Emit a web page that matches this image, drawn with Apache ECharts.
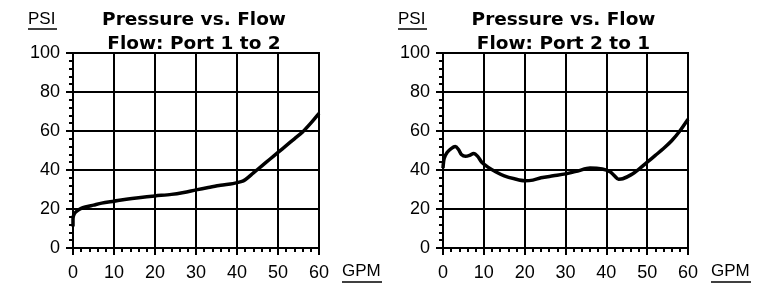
<!DOCTYPE html>
<html>
<head>
<meta charset="utf-8">
<script src="https://cdn.jsdelivr.net/npm/echarts@6/dist/echarts.min.js"></script>
<style>
  html, body { margin: 0; padding: 0; background: #fff; }
  #chart { width: 761px; height: 294px; }
</style>
</head>
<body>
<div id="chart"></div>
<script>
// pressure (PSI) vs flow (GPM)
var flowPort1to2 = [
  [0, 11], [0, 15], [0.3, 17.5], [1, 19], [2, 20.3], [3, 21], [5, 22], [7, 23],
  [10, 24], [13, 25], [16, 25.8], [20, 26.7], [24, 27.5], [27, 28.5], [30, 29.8],
  [33, 31], [36, 32.2], [39, 33], [41, 34], [42, 35], [44, 38.5], [46, 42],
  [48, 45.5], [50, 49], [52, 52.5], [54, 56], [56, 59.5], [58, 64], [60, 69]
];
var flowPort2to1 = [
  [0, 41], [0.3, 46], [1, 49], [2, 51], [3, 52], [3.8, 50.5], [4.5, 48], [5.5, 47],
  [6.5, 47.5], [7.5, 48.5], [8.5, 47], [9.5, 44], [11, 41.5], [13, 39], [15, 37],
  [17.5, 35.5], [20, 34.5], [22, 34.8], [24, 36], [27, 37], [30, 38], [33, 39.5],
  [36, 41], [39, 40.5], [41, 39], [42, 37], [43, 35.3], [44, 35.5], [46, 37.5],
  [48, 40.5], [50, 44], [52, 47.5], [54, 51], [56, 55], [58, 60], [60, 66]
];
var titleLine1 = ['Pressure vs. Flow', 'Pressure vs. Flow'];
var titleLine2 = ['Flow: Port 1 to 2', 'Flow: Port 2 to 1'];

var chart = echarts.init(document.getElementById('chart'));
var txt = { color: '#000', fontFamily: 'Liberation Sans', fontSize: 18 };
var grids = [
  { left: 73, top: 53, width: 246, height: 195 },
  { left: 443, top: 53, width: 245, height: 195 }
];

function xAxisFor(i) {
  return {
    type: 'value', gridIndex: i, min: 0, max: 60, interval: 10, offset: 4,
    axisLine: { show: false },
    axisTick: { length: 7, lineStyle: { color: '#000', width: 2 } },
    minorTick: { show: true, splitNumber: 5, length: 4, lineStyle: { color: '#000', width: 2 } },
    splitLine: { lineStyle: { color: '#000', width: 2 } },
    axisLabel: Object.assign({ margin: 12 }, txt)
  };
}
function yAxisFor(i) {
  return {
    type: 'value', gridIndex: i, min: 0, max: 100, interval: 20, offset: 3,
    axisLine: { show: false },
    axisTick: { length: 7, lineStyle: { color: '#000', width: 2 } },
    minorTick: { show: true, splitNumber: 5, length: 4, lineStyle: { color: '#000', width: 2 } },
    splitLine: { lineStyle: { color: '#000', width: 2 } },
    axisLabel: Object.assign({ margin: 10 }, txt)
  };
}

var graphics = [];
grids.forEach(function (g, i) {
  var cx = g.left + g.width / 2 - 2;
  graphics.push({ type: 'text', x: cx, y: 11, style: { text: titleLine1[i], fill: '#000', align: 'center', font: 'bold 18.5px "DejaVu Sans"' } });
  graphics.push({ type: 'text', x: cx, y: 35, style: { text: titleLine2[i], fill: '#000', align: 'center', font: 'bold 18.5px "DejaVu Sans"' } });
  var px = g.left - 45;
  graphics.push({ type: 'text', left: px, top: 11, style: { text: 'PSI', fill: '#000', font: '17px "Liberation Sans"' } });
  graphics.push({ type: 'line', shape: { x1: px, y1: 29, x2: px + 29, y2: 29 }, style: { stroke: '#000', lineWidth: 1.5 } });
  var gx = g.left + g.width + 23;
  graphics.push({ type: 'text', left: gx, top: 263, style: { text: 'GPM', fill: '#000', font: '17px "Liberation Sans"' } });
  graphics.push({ type: 'line', shape: { x1: gx, y1: 282, x2: gx + 40, y2: 282 }, style: { stroke: '#000', lineWidth: 1.5 } });
});

var option = {
  backgroundColor: '#fff',
  animation: false,
  grid: grids.map(function (g) {
    return Object.assign({ show: true, borderColor: '#000', borderWidth: 2, backgroundColor: '#fff' }, g);
  }),
  xAxis: [xAxisFor(0), xAxisFor(1)],
  yAxis: [yAxisFor(0), yAxisFor(1)],
  series: [
    { type: 'line', xAxisIndex: 0, yAxisIndex: 0, data: flowPort1to2, showSymbol: false, smooth: 0.3,
      lineStyle: { color: '#000', width: 3.5 } },
    { type: 'line', xAxisIndex: 1, yAxisIndex: 1, data: flowPort2to1, showSymbol: false, smooth: 0.3,
      lineStyle: { color: '#000', width: 3.5 } }
  ],
  graphic: graphics
};
chart.setOption(option);
</script>
</body>
</html>
